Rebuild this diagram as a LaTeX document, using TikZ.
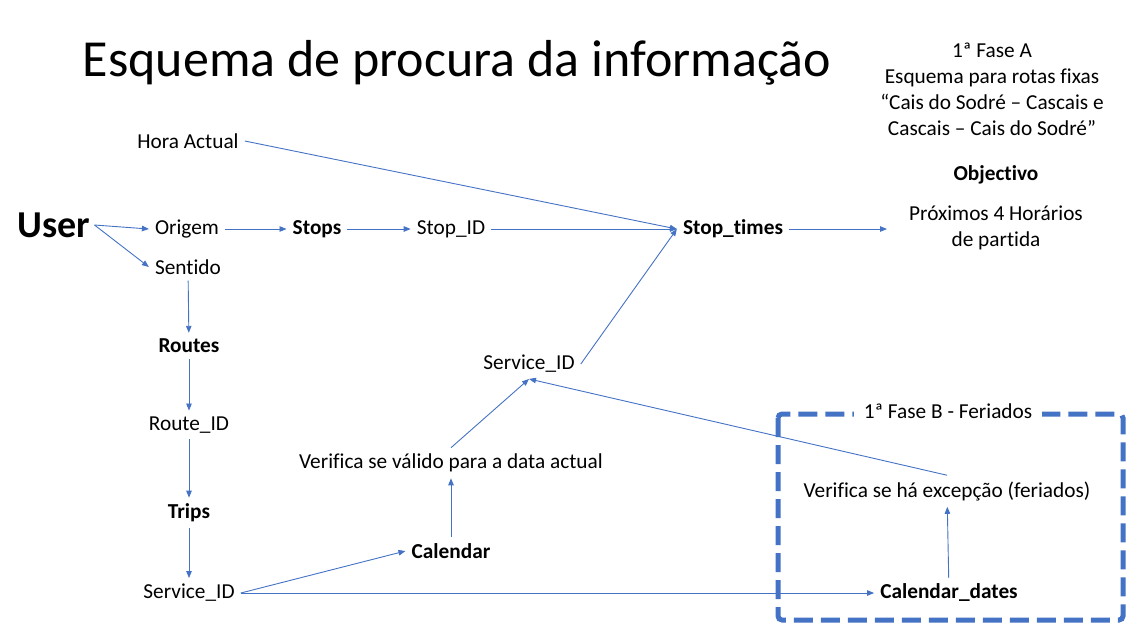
\documentclass[tikz,border=0pt]{standalone}
\usepackage{fontspec}
\setmainfont{Carlito}[Ligatures=NoCommon]
\usetikzlibrary{arrows.meta, positioning}
\definecolor{linkblue}{HTML}{4472C4}

\tikzset{
  txt/.style={font=\fontsize{21.3}{26}\selectfont, inner sep=6pt, yshift=-2pt},
  tab/.style={txt, font=\fontsize{21.3}{26}\selectfont\bfseries},
  flecha/.style={draw=linkblue, line width=0.9pt, -{Triangle[length=7pt,width=5.5pt]}},
}

\begin{document}
\begin{tikzpicture}[x=1pt, y=-1pt]
\useasboundingbox (0,0) rectangle (1135,641);
% --- titulo e notas ---
\node[font=\fontsize{52}{60}\selectfont] (titulo) at (457,63) {Esquema de procura da informação};
\node[txt, align=center] (faseA) at (992,87) {1ª Fase A\\Esquema para rotas fixas\\“Cais do Sodré – Cascais e\\Cascais – Cais do Sodré”};
\node[tab] (objectivo) at (996,173) {Objectivo};
\node[txt, align=center] (proximos) at (996,226) {Próximos 4 Horários\\de partida};
% --- fase B ---
\draw[linkblue, line width=5pt, dash pattern=on 19pt off 8pt, rounded corners=4pt] (778,414) rectangle (1123,620);
\node[txt, fill=white, inner xsep=10pt] (faseB) at (948,409) {1ª Fase B - Feriados};
% --- nodes ---
\node[font=\fontsize{38}{44}\selectfont\bfseries, inner sep=4pt] (user) at (54,225) {User};
\node[txt] (hora) at (188,139) {Hora Actual};
\node[txt] (origem) at (187,227) {Origem};
\node[txt] (sentido) at (188,265) {Sentido};
\node[tab] (stops) at (317,227) {Stops};
\node[txt] (stopid) at (451,227) {Stop\_ID};
\node[tab] (stoptimes) at (733,227) {Stop\_times};
\node[tab] (routes) at (189,344) {Routes};
\node[txt] (routeid) at (189,423) {Route\_ID};
\node[tab] (trips) at (189,511) {Trips};
\node[txt] (sid) at (189,591) {Service\_ID};
\node[tab] (calendar) at (451,549) {Calendar};
\node[txt] (valido) at (451,461) {Verifica se válido para a data actual};
\node[txt] (sidB) at (529,362) {Service\_ID};
\node[txt] (excepcao) at (947,489) {Verifica se há excepção (feriados)};
\node[tab] (caldates) at (949,591) {Calendar\_dates};
% --- ligacoes ---
\draw[flecha] (user.east) -- (origem.west);
\draw[flecha] (user.east) -- (sentido.west);
\draw[flecha] (origem) -- (stops);
\draw[flecha] (stops) -- (stopid);
\draw[flecha] (stopid) -- (stoptimes.west);
\draw[flecha] (hora.east) -- (stoptimes.west);
\draw[flecha] (sidB.east) -- (stoptimes.west);
\draw[flecha, shorten >=16pt] (stoptimes.east) -- (stoptimes.east -| proximos.west);
\draw[flecha] (sentido) -- (routes);
\draw[flecha] (routes) -- (routeid);
\draw[flecha] (routeid) -- (trips);
\draw[flecha] (trips) -- (sid);
\draw[flecha] (sid.east) -- (calendar.west);
\draw[flecha] (sid.east) -- (caldates.west);
\draw[flecha] (calendar) -- (valido);
\draw[flecha] (valido.north) -- (sidB.south);
\draw[flecha] (excepcao.north) -- (sidB.south);
\draw[flecha] (caldates) -- (excepcao);
\end{tikzpicture}
\end{document}
